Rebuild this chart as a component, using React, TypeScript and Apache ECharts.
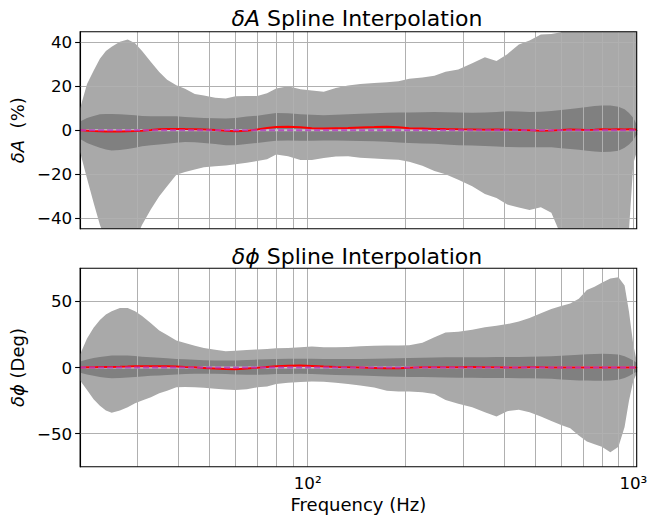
import React, { useEffect, useRef } from "react";
import * as echarts from "echarts";

const FREQ = [20, 21, 22, 23, 24, 25, 26.5, 28, 29.5, 31,
  33, 35, 37, 39.5, 42, 45, 48, 52, 56, 60,
  65, 70, 75, 80, 87, 95, 103, 112, 122, 133,
  145, 160, 175, 190, 205, 225, 245, 265, 290, 320,
  350, 380, 410, 445, 480, 520, 560, 600, 640, 680,
  720, 760, 800, 850, 900, 940, 970, 1000, 1024];

// δA (%) panel
const A_OUTER_HI = [10, 21, 27, 32.5, 36, 38, 40.2, 41.2, 39.5, 36,
  31, 26.5, 23, 20.5, 18.8, 16.5, 15.8, 14.8, 14.4, 15.4,
  15.5, 15.6, 16.8, 19, 20, 18.6, 18, 17.5, 19.2, 20.3,
  21, 21.5, 21.8, 22.3, 23.4, 24, 24.8, 26.6, 27.6, 30.5,
  33.2, 31.5, 34.6, 39, 40.8, 43.5, 43.8, 44.5, 52, 58,
  62, 63, 64, 65, 65, 63, 60, 55, 48];
const A_OUTER_LO = [-10, -22, -33, -43, -50, -54, -56, -55, -50, -43,
  -36, -30, -25.5, -20.3, -19, -17.9, -16.8, -16.4, -16, -15.5,
  -14.8, -14, -13.2, -11, -11.8, -13.6, -13.5, -12.6, -12, -11.8,
  -12.5, -12.9, -13.2, -13.4, -14.3, -16.2, -18.6, -20, -22.5, -25.5,
  -29, -30.8, -33.8, -35.2, -36.3, -35, -37.5, -48, -55, -58,
  -60, -60, -60, -60, -60, -58, -45, -15, -10];
const A_INNER_HI = [4, 5.5, 6.5, 7.2, 7.4, 7.4, 7.2, 7, 6.8, 6.5,
  6.4, 6.4, 6.4, 6.3, 6, 5.8, 5.6, 5.4, 5.3, 5.5,
  6.2, 6.6, 7.3, 7.8, 7.7, 7.3, 7, 6.8, 7, 7.3,
  7.5, 7.7, 7.9, 8, 8, 8.2, 8.3, 8.2, 8, 7.9,
  8, 8.3, 8.6, 8.5, 8.3, 8.4, 8.7, 9.2, 9.6, 10.1,
  10.6, 11, 11.2, 11.2, 10.7, 9.5, 7.8, 5.5, 2.6];
const A_INNER_LO = [-4, -5.8, -7, -8, -8.8, -9.2, -9, -8.5, -8, -7.3,
  -6.8, -6.5, -6.2, -5.7, -5.4, -5.5, -5.8, -6.3, -6.8, -6.8,
  -6.3, -5.8, -5.2, -4.8, -4.7, -4.8, -4.8, -4.7, -4.7, -4.8,
  -4.9, -5, -5.3, -5.6, -5.8, -6, -6.2, -6.5, -6.8, -7,
  -7.2, -7.4, -7.6, -7.7, -7.7, -7.7, -7.8, -8.2, -8.5, -8.9,
  -9.3, -9.7, -9.9, -9.8, -9.3, -8, -6.5, -4.5, -2];
const A_MEDIAN = [0, -0.2, -0.4, -0.5, -0.6, -0.6, -0.6, -0.5, -0.4, -0.2,
  0.1, 0.4, 0.6, 0.6, 0.5, 0.4, 0.3, 0.1, -0.3, -0.5,
  -0.3, 0.3, 1.0, 1.5, 1.6, 1.3, 0.9, 0.8, 0.9, 1.0,
  1.2, 1.4, 1.6, 1.3, 0.9, 0.8, 0.6, 0.5, 0.4, 0.3,
  0.2, 0.3, 0.2, 0.1, 0, -0.2, -0.1, 0.1, 0.3, 0.2,
  0.1, 0.2, 0.4, 0.3, 0.4, 0.3, 0.4, 0.3, 0.2];

// δϕ (Deg) panel
const P_OUTER_HI = [10, 22, 30, 36, 40, 42.5, 45, 45, 42.5, 39,
  33.5, 28, 24.5, 20.5, 18.5, 16.5, 14.8, 13.5, 12.2, 12.6,
  13.2, 13.7, 14, 14.5, 14.8, 15.3, 15.8, 15.4, 15.4, 15.5,
  16, 16.5, 16.6, 16.6, 16.8, 18.8, 22.8, 26.5, 27, 28.5,
  30.5, 31.5, 32.8, 34.8, 37.5, 41, 44.3, 46.5, 48.3, 52,
  58.5, 61, 64, 67.2, 68.2, 62, 42, 17, 5];
const P_OUTER_LO = [-9.8, -17, -24, -29, -32.5, -34.3, -32.5, -30, -27, -25,
  -22.5, -19.5, -17.5, -15, -14.8, -15, -15.4, -16, -16.6, -17,
  -16.5, -15, -14.3, -12.5, -11.5, -11, -10.6, -10.8, -11.6, -12.4,
  -13.6, -15.2, -17.5, -18.1, -18.2, -18.7, -20, -24.5, -27.5, -30,
  -33.8, -37, -33, -32, -33.8, -37, -40.5, -43.5, -46, -51.5,
  -56, -58, -60, -64, -60, -45, -25, -10, -4.5];
const P_INNER_HI = [4.5, 6, 7.2, 8, 8.6, 9, 9.1, 9, 8.7, 8.2,
  7.8, 7.3, 7, 6.5, 6.2, 5.8, 5.4, 5.2, 5.2, 5.3,
  5.6, 6, 6.3, 6.5, 6.6, 6.6, 6.6, 6.5, 6.4, 6.4,
  6.5, 6.6, 6.8, 7, 7.2, 7.4, 7.6, 7.8, 7.8, 7.8,
  7.8, 7.9, 7.9, 8, 8.1, 8.3, 8.6, 8.9, 9.3, 9.7,
  10, 10.3, 10.4, 10.3, 9.8, 8.6, 7, 5.2, 3.5];
const P_INNER_LO = [-4, -5.2, -6.3, -7.2, -7.8, -8.1, -8, -7.6, -7.2, -6.8,
  -6.3, -6, -5.6, -5.2, -4.9, -4.8, -4.8, -4.8, -5, -5.3,
  -5.5, -5.5, -5.3, -5, -4.9, -4.8, -5, -5.3, -5.6, -5.9,
  -6.1, -6.4, -6.8, -7, -7.1, -7.2, -7.4, -7.6, -7.8, -7.8,
  -7.9, -8, -8, -8.1, -8.1, -8.3, -8.6, -9, -9.4, -9.8,
  -9.9, -10, -10, -9.9, -9.2, -8, -6.5, -4.5, -3];
const P_MEDIAN = [0, 0.1, 0.2, 0.3, 0.3, 0.4, 0.5, 0.7, 0.9, 1.0,
  1.0, 1.0, 0.9, 0.7, 0.4, 0.1, -0.3, -0.8, -1.2, -1.3,
  -0.8, -0.2, 0.4, 0.9, 1.3, 1.5, 1.2, 0.7, 0.4, 0.2,
  0, -0.3, -0.6, -0.5, -0.2, 0.1, 0.2, 0.2, 0.2, 0.3,
  0.2, 0.1, 0, 0, 0.1, 0.1, 0, 0, 0, 0,
  0, 0, 0, 0, 0, 0, 0, 0, 0];

// reference (true) curve: zero over the whole range
const REF_FREQ = [20, 1024];
const REF_VALUE = [0, 0];

// axis ticks / grid
const X_MIN = 20;
const X_MAX = 1024;
const X_GRID = [30, 40, 50, 60, 70, 80, 90, 100, 200, 300, 400, 500, 600, 700, 800, 900, 1000];
const A_TICKS = [-40, -20, 0, 20, 40];
const A_LIM = [-44.8, 44.8];
const P_TICKS = [-50, 0, 50];
const P_LIM = [-75, 75];

const FONT = "DejaVu Sans";
const LIGHT = "#a9a9a9";
const DARK = "#808080";
const GRIDC = "#b0b0b0";

function fmtY(v: number) {
  if (v < 0) return "\u2212" + Math.abs(v);
  return String(v);
}

function bandSeries(gi: number, lo: number[], hi: number[], color: string) {
  return {
    type: "custom",
    xAxisIndex: gi,
    yAxisIndex: gi,
    silent: true,
    z: 2,
    data: FREQ.map((f, i) => [f, lo[i], hi[i]]),
    encode: { x: 0, y: [1, 2] },
    renderItem: (params: any, api: any) => {
      if (params.dataIndex !== 0) return null;
      const pts: number[][] = [];
      for (let i = 0; i < FREQ.length; i++) pts.push(api.coord([FREQ[i], hi[i]]));
      for (let i = FREQ.length - 1; i >= 0; i--) pts.push(api.coord([FREQ[i], lo[i]]));
      const cs = params.coordSys;
      return {
        type: "polygon",
        shape: { points: pts },
        style: { fill: color, stroke: "none" },
        clipPath: {
          type: "rect",
          shape: { x: cs.x, y: cs.y, width: cs.width, height: cs.height },
        },
      };
    },
  };
}

function lineSeries(gi: number, med: number[], ticks: number[]) {
  return [
    {
      type: "line",
      xAxisIndex: gi,
      yAxisIndex: gi,
      data: REF_FREQ.map((f, i) => [f, REF_VALUE[i]]),
      symbol: "none",
      lineStyle: { color: "#c8c8c8", width: 2 },
      silent: true,
      z: 7,
      markLine: {
        silent: true,
        symbol: ["none", "none"],
        label: { show: false },
        lineStyle: { color: GRIDC, width: 1, type: "solid" },
        z: 5,
        data: [
          ...X_GRID.map((v) => ({ xAxis: v })),
          ...ticks.map((v) => ({ yAxis: v })),
        ],
      },
    },
    {
      type: "line",
      xAxisIndex: gi,
      yAxisIndex: gi,
      data: FREQ.map((f, i) => [f, med[i]]),
      symbol: "none",
      lineStyle: { color: "#ff0000", width: 2 },
      silent: true,
      z: 9,
    },
    {
      type: "line",
      xAxisIndex: gi,
      yAxisIndex: gi,
      data: REF_FREQ.map((f, i) => [f, REF_VALUE[i]]),
      symbol: "none",
      lineStyle: { color: "#b03cc0", width: 2, type: [6, 3], opacity: 0.85 },
      silent: true,
      z: 10,
    },
  ];
}

export default function App() {
  const ref = useRef<HTMLDivElement>(null);
  useEffect(() => {
    if (!ref.current) return;
    const chart = echarts.init(ref.current, null, { renderer: "svg" });
    const gridBase = {
      left: 78,
      width: 558.7,
      show: true,
      backgroundColor: "transparent",
      borderColor: "#000",
      borderWidth: 1.1,
      z: 20,
    };
    const xAxisBase = {
      type: "log",
      logBase: 10,
      min: X_MIN,
      max: X_MAX,
      axisLine: { show: true, lineStyle: { color: "#000", width: 1.1 } },
      axisTick: { show: true, length: 5, lineStyle: { color: "#000", width: 1.1 } },
      splitLine: { show: false },
      minorTick: { show: false },
    };
    const yAxisBase = {
      type: "value",
      axisLine: { show: true, lineStyle: { color: "#000", width: 1.1 } },
      splitLine: { show: false },
      nameLocation: "middle",
      nameRotate: 90,
      nameGap: 50,
    };
    const labelStyle = { fontFamily: FONT, fontSize: 16.7, color: "#000" };
    const richName = {
      i: { fontFamily: FONT, fontSize: 18, fontStyle: "italic", color: "#000" },
      n: { fontFamily: FONT, fontSize: 18, color: "#000" },
    };
    const titleRich = {
      i: { fontFamily: FONT, fontSize: 22, fontStyle: "italic", fill: "#000" },
      n: { fontFamily: FONT, fontSize: 22, fill: "#000" },
    };
    const option: any = {
      animation: false,
      backgroundColor: "#ffffff",
      grid: [
        { ...gridBase, top: 31.7, height: 197 },
        { ...gridBase, top: 268.3, height: 198.4 },
      ],
      xAxis: [
        {
          ...xAxisBase,
          gridIndex: 0,
          axisLabel: { show: false },
        },
        {
          ...xAxisBase,
          gridIndex: 1,
          axisLabel: {
            ...labelStyle,
            margin: 8,
            formatter: (v: number) => {
              const l = Math.log10(v);
              if (Math.abs(l - 2) < 1e-6) return "10\u00b2";
              if (Math.abs(l - 3) < 1e-6) return "10\u00b3";
              return "";
            },
          },
          name: "Frequency (Hz)",
          nameLocation: "middle",
          nameGap: 29,
          nameTextStyle: { fontFamily: FONT, fontSize: 18, color: "#000" },
        },
      ],
      yAxis: [
        {
          ...yAxisBase,
          gridIndex: 0,
          min: A_LIM[0],
          max: A_LIM[1],
          axisLabel: {
            ...labelStyle,
            margin: 8,
            customValues: A_TICKS,
            formatter: (v: number) => (A_TICKS.includes(v) ? fmtY(v) : ""),
          },
          axisTick: { show: true, length: 5, customValues: A_TICKS, lineStyle: { color: "#000", width: 1.1 } },
          name: "{i|\u03b4A}{n|  (%)}",
          nameTextStyle: { rich: richName, fontFamily: FONT, fontSize: 18 },
        },
        {
          ...yAxisBase,
          gridIndex: 1,
          min: P_LIM[0],
          max: P_LIM[1],
          axisLabel: {
            ...labelStyle,
            margin: 8,
            customValues: P_TICKS,
            formatter: (v: number) => (P_TICKS.includes(v) ? fmtY(v) : ""),
          },
          axisTick: { show: true, length: 5, customValues: P_TICKS, lineStyle: { color: "#000", width: 1.1 } },
          name: "{i|\u03b4\u03d5}{n| (Deg)}",
          nameTextStyle: { rich: richName, fontFamily: FONT, fontSize: 18 },
        },
      ],
      graphic: [
        {
          type: "text",
          x: 357,
          y: 18,
          z: 30,
          style: {
            text: "{i|\u03b4A}{n| Spline Interpolation}",
            align: "center",
            verticalAlign: "middle",
            rich: titleRich,
          },
        },
        {
          type: "text",
          x: 357,
          y: 256,
          z: 30,
          style: {
            text: "{i|\u03b4\u03d5}{n| Spline Interpolation}",
            align: "center",
            verticalAlign: "middle",
            rich: titleRich,
          },
        },
      ],
      series: [
        bandSeries(0, A_OUTER_LO, A_OUTER_HI, LIGHT),
        bandSeries(0, A_INNER_LO, A_INNER_HI, DARK),
        ...lineSeries(0, A_MEDIAN, A_TICKS),
        bandSeries(1, P_OUTER_LO, P_OUTER_HI, LIGHT),
        bandSeries(1, P_INNER_LO, P_INNER_HI, DARK),
        ...lineSeries(1, P_MEDIAN, P_TICKS),
      ],
    };
    chart.setOption(option);
    return () => chart.dispose();
  }, []);
  return (
    <div
      ref={ref}
      style={{ position: "absolute", left: 0, top: 0, width: 655, height: 522 }}
    />
  );
}
